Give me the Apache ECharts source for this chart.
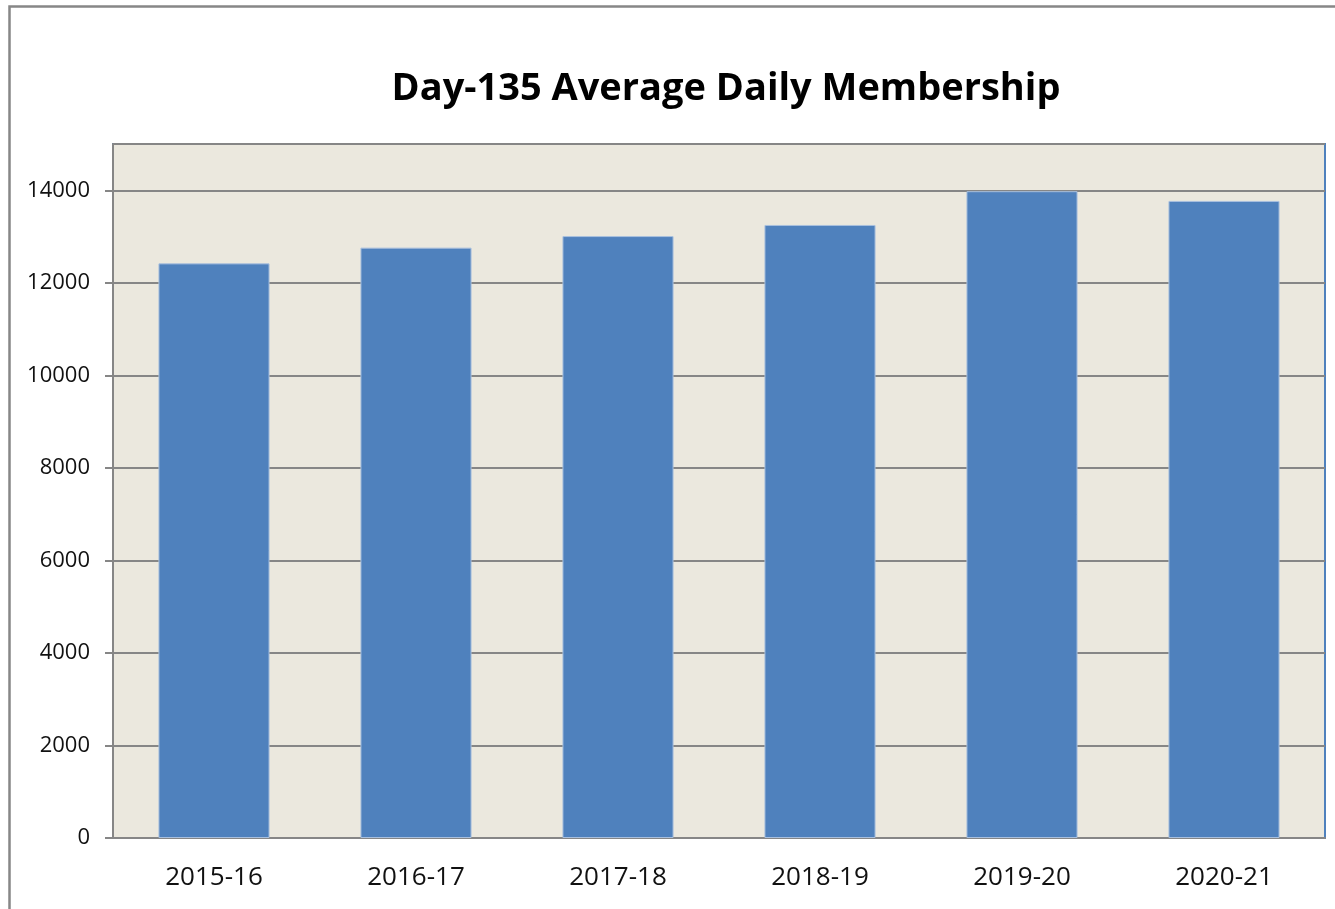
<!DOCTYPE html>
<html>
<head>
<meta charset="utf-8">
<title>Day-135 Average Daily Membership</title>
<script src="https://cdn.jsdelivr.net/npm/echarts@6/dist/echarts.min.js"></script>
<style>
    html, body { margin: 0; padding: 0; background: #fff; }
    #container { width: 1335px; height: 909px; }
</style>
</head>
<body>
<div id="container"></div>
<script>
// data
const CHART_TITLE = 'Day-135 Average Daily Membership';
const years = ['2015-16', '2016-17', '2017-18', '2018-19', '2019-20', '2020-21'];
const membership = [12420, 12760, 13010, 13250, 13980, 13770];

const AXIS_GREY = '#868686';
const BAR_BLUE = '#4F81BD';

let dom = document.getElementById("container");
let myChart = echarts.init(dom);

option = {
    backgroundColor: '#ffffff',
    animation: false,
    graphic: [{
        // outer chart frame
        type: 'rect',
        shape: { x: 9.5, y: 6.5, width: 1340, height: 920 },
        style: { fill: 'none', stroke: '#878787', lineWidth: 2.5 },
        silent: true
    }, {
        type: 'text',
        x: 726,
        y: 89,
        style: {
            text: CHART_TITLE,
            textAlign: 'center',
            textVerticalAlign: 'middle',
            fontFamily: 'Open Sans',
            fontWeight: 'bold',
            fontSize: 38,
            fill: '#000'
        }
    }],
    grid: {
        left: 113,
        right: 10,
        top: 144,
        bottom: 71,
        show: true,
        backgroundColor: '#EBE8DE',
        borderColor: BAR_BLUE,
        borderWidth: 2
    },
    xAxis: {
        type: 'category',
        data: years,
        axisLine: { lineStyle: { color: AXIS_GREY, width: 2 } },
        axisTick: { length: 8, lineStyle: { color: AXIS_GREY, width: 2 } },
        axisLabel: {
            margin: 27,
            fontFamily: 'Open Sans',
            fontSize: 26,
            color: '#111'
        }
    },
    yAxis: {
        type: 'value',
        min: 0,
        max: 15000,
        interval: 2000,
        axisLine: { show: true, lineStyle: { color: AXIS_GREY, width: 2 } },
        axisTick: { show: true, length: 8, lineStyle: { color: AXIS_GREY, width: 2 } },
        axisLabel: {
            margin: 23,
            showMaxLabel: false,
            fontFamily: 'Open Sans',
            fontSize: 22,
            color: '#111',
            formatter: function (v) {
                return String(v);
            }
        },
        splitLine: { lineStyle: { color: AXIS_GREY, width: 2 } }
    },
    series: [{
        name: 'ADM',
        type: 'bar',
        data: membership,
        barWidth: '55%',
        itemStyle: {
            color: BAR_BLUE,
            borderColor: '#A9C0DE',
            borderWidth: 1
        }
    }]
};

if (option && typeof option === "object") {
    myChart.setOption(option, true);
}
window.addEventListener("resize", function () {
    myChart.resize();
});
</script>
</body>
</html>
